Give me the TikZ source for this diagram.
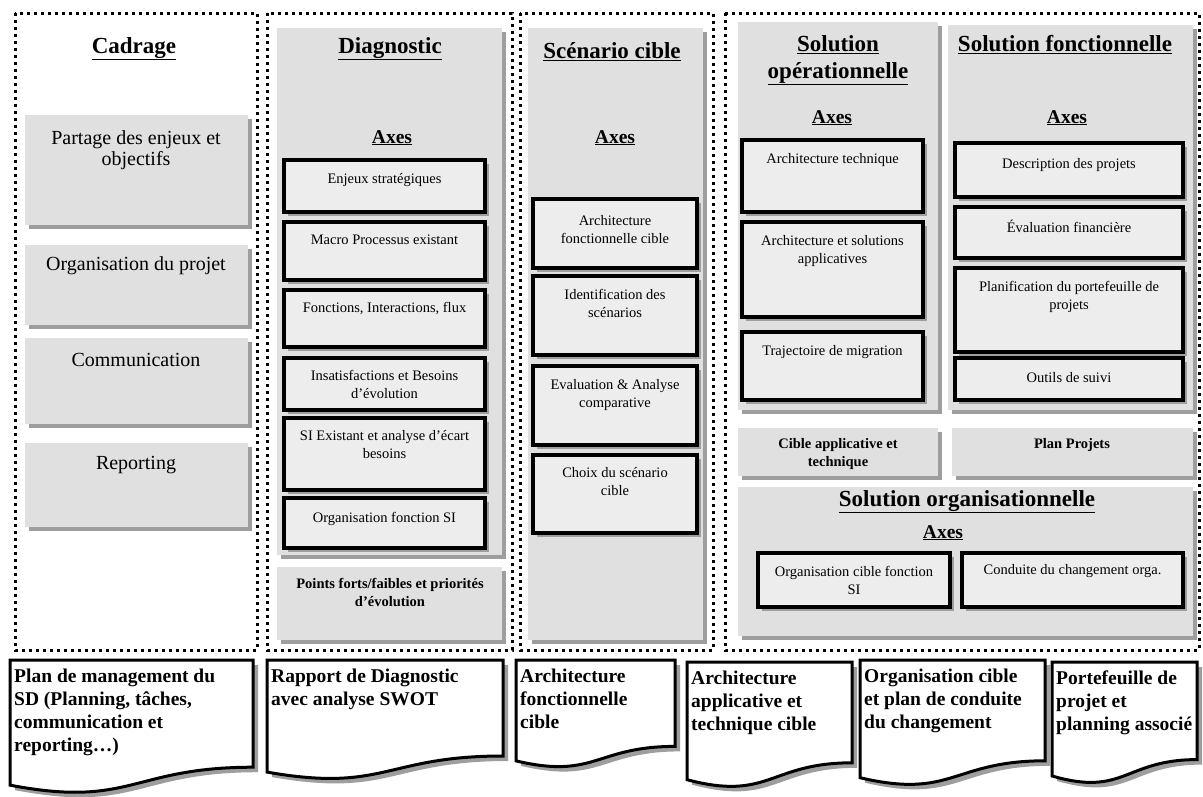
\documentclass[tikz,border=0pt]{standalone}
\usepackage{fontspec}
\setmainfont{Liberation Serif}
\usetikzlibrary{calc}

\definecolor{fondgris}{gray}{0.88}
\definecolor{boitegris}{gray}{0.93}
\definecolor{ombre}{gray}{0.62}

% panneau gris avec ombre portee : x1, y1, x2, y2
\newcommand{\panneau}[4]{%
  \fill[ombre] (#1+4,#2+4) rectangle (#3+4,#4+4);
  \fill[fondgris] (#1,#2) rectangle (#3,#4);
}
% boite d'axe : nom, x1, y1, x2, y2, y du texte, texte
\newcommand{\axe}[7]{%
  \fill[ombre] (#2+4,#3+4) rectangle (#4+4,#5+4);
  \draw[axebord] (#2,#3) rectangle (#4,#5);
  \node[axetxt] (#1) at ({(#2+#4)/2},#6-5) {#7};
}
% livrable (forme document) : nom, x1, y1, x2, hauteur, texte
\newcommand{\livrable}[6]{%
  \fill[ombre, shift={(5,5)}] (#2,#3) -- (#4,#3) -- (#4,#3+0.8*#5)
    .. controls ({(#2+#4)/2},#3+0.8*#5) and ({(#2+#4)/2},#3+1.107*#5) .. (#2,#3+0.934*#5) -- cycle;
  \draw[livbord] (#2,#3) -- (#4,#3) -- (#4,#3+0.8*#5)
    .. controls ({(#2+#4)/2},#3+0.8*#5) and ({(#2+#4)/2},#3+1.107*#5) .. (#2,#3+0.934*#5) -- cycle;
  \node[livtxt] (#1) at (#2+4,#3+9) {#6};
}

\begin{document}
\begin{tikzpicture}[x=1pt, y=-1pt,
    cadre/.style={line width=3pt, dash pattern=on 3pt off 4pt},
    titre/.style={font=\fontsize{23}{27}\selectfont\bfseries, align=center, inner sep=0pt, anchor=north},
    axes/.style={font=\fontsize{19.5}{22}\selectfont\bfseries, inner sep=0pt, anchor=north},
    etape/.style={font=\fontsize{20}{21}\selectfont, align=center, inner sep=0pt, anchor=north},
    axetxt/.style={font=\fontsize{14.5}{18}\selectfont, align=center, inner sep=0pt, anchor=north},
    synth/.style={font=\fontsize{14.5}{18}\selectfont\bfseries, align=center, inner sep=0pt, anchor=north},
    livtxt/.style={font=\fontsize{19.5}{23}\selectfont\bfseries, align=left, inner sep=0pt, anchor=north west},
    axebord/.style={draw=black, line width=3.5pt, fill=boitegris},
    livbord/.style={draw=black, line width=3pt, fill=white}]

    \fill[white] (0,0) rectangle (1203,796);
    \useasboundingbox (0,0) rectangle (1203,796);

    % Cadrage
    \node[titre] (cadrage) at (134,37) {\underline{Cadrage}};
    \panneau{25}{115}{248}{225}
    \panneau{25}{245}{248}{325}
    \panneau{25}{338}{248}{424}
    \panneau{25}{443}{248}{527}
    \node[etape] (partage) at (136,130) {Partage des enjeux et\\objectifs};
    \node[etape] (orgprojet) at (136,256) {Organisation du projet};
    \node[etape] (communication) at (136,353) {Communication};
    \node[etape] (reporting) at (136,456) {Reporting};

    % Diagnostic
    \panneau{277}{28}{502}{555}
    \panneau{277}{567}{502}{640}
    \node[titre] (diagnostic) at (390,37) {\underline{Diagnostic}};
    \node[axes] (axesdiag) at (392,130) {\underline{Axes}};
    \axe{enjeux}{284}{160}{485}{212}{178}{Enjeux stratégiques}
    \axe{macro}{284}{222}{485}{280}{240}{Macro Processus existant}
    \axe{fonctions}{284}{290}{485}{347}{307}{Fonctions, Interactions, flux}
    \axe{insatisf}{284}{358}{485}{410}{375}{Insatisfactions et Besoins\\d’évolution}
    \axe{siexist}{284}{418}{485}{490}{435}{SI Existant et analyse d’écart\\besoins}
    \axe{orgsi}{284}{498}{485}{548}{517}{Organisation fonction SI}
    \node[synth] (pointsforts) at (390,578) {Points forts/faibles et priorités\\d’évolution};

    % Scenario cible
    \panneau{528}{28}{703}{640}
    \node[titre] (scenario) at (612,42) {\underline{Scénario cible}};
    \node[axes] (axesscen) at (615,130) {\underline{Axes}};
    \axe{archfonc}{533}{199}{697}{268}{220}{Architecture\\fonctionnelle cible}
    \axe{identif}{533}{276}{697}{355}{294}{Identification des\\scénarios}
    \axe{evalscen}{533}{366}{697}{445}{384}{Evaluation \& Analyse\\comparative}
    \axe{choix}{533}{455}{697}{533}{472}{Choix du scénario\\cible}

    % Solutions
    \panneau{738}{22}{938}{410}
    \panneau{948}{25}{1193}{410}
    \panneau{738}{428}{938}{476}
    \panneau{952}{428}{1193}{476}
    \panneau{738}{487}{1193}{636}
    \node[titre] (solop) at (838,35) {\underline{Solution}\\\underline{opérationnelle}};
    \node[titre] (solfonc) at (1065,35) {\underline{Solution fonctionnelle}};
    \node[axes] (axesop) at (832,110) {\underline{Axes}};
    \node[axes] (axesfonc) at (1067,110) {\underline{Axes}};
    \axe{archtech}{742}{140}{923}{212}{158}{Architecture technique}
    \axe{archappli}{742}{222}{923}{317}{240}{Architecture et solutions\\applicatives}
    \axe{traject}{742}{332}{923}{400}{350}{Trajectoire de migration}
    \axe{descr}{955}{143}{1183}{197}{163}{Description des projets}
    \axe{evalfin}{955}{207}{1183}{258}{225}{Évaluation financière}
    \axe{planif}{955}{268}{1183}{352}{286}{Planification du portefeuille de\\projets}
    \axe{outils}{955}{358}{1183}{400}{377}{Outils de suivi}
    \node[synth] (cibleappli) at (838,438) {Cible applicative et\\technique};
    \node[synth] (planprojets) at (1072,438) {Plan Projets};
    \node[titre] (solorg) at (967,490) {\underline{Solution organisationnelle}};
    \node[axes] (axesorg) at (943,525) {\underline{Axes}};
    \axe{orgcible}{758}{553}{950}{607}{571}{Organisation cible fonction\\SI}
    \axe{conduite}{962}{553}{1183}{607}{569}{Conduite du changement orga.}

    % cadres pointilles
    \draw[cadre] (15,13) rectangle (257,650);
    \draw[cadre] (267,13) rectangle (512,650);
    \draw[cadre] (520,13) rectangle (713,650);
    \draw[cadre] (725,13) rectangle (1199,650);

    % livrables
    \livrable{plan}{10}{660}{253}{134}{Plan de management du\\SD (Planning, tâches,\\communication et\\reporting…)}
    \livrable{rapport}{267}{660}{503}{120}{Rapport de Diagnostic\\avec analyse SWOT}
    \livrable{archfonccible}{516}{660}{675}{108}{Architecture\\fonctionnelle\\cible}
    \livrable{archapplicible}{687}{662}{852}{126}{Architecture\\applicative et\\technique cible}
    \livrable{orgconduite}{860}{660}{1045}{126}{Organisation cible\\et plan de conduite\\du changement}
    \livrable{portefeuille}{1052}{662}{1197}{122}{Portefeuille de\\projet et\\planning associé}
\end{tikzpicture}
\end{document}
